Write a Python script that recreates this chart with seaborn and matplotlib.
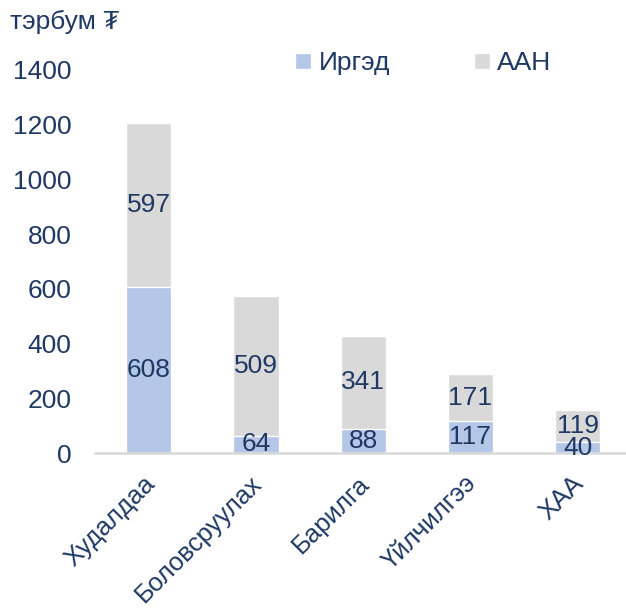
import matplotlib
matplotlib.use("Agg")
import matplotlib.pyplot as plt
from matplotlib.transforms import ScaledTranslation
import seaborn as sns
import pandas as pd

categories = ['Худалдаа', 'Боловсруулах', 'Барилга', 'Үйлчилгээ', 'ХАА']
irged = [608, 64, 88, 117, 40]
aan = [597, 509, 341, 171, 119]

blue = '#B4C7E7'
gray = '#D9D9D9'
navy = '#1F3864'

sns.set_theme(style='white')
plt.rcParams['font.family'] = ['Liberation Sans', 'DejaVu Sans']

df = pd.DataFrame({'cat': categories, 'Иргэд': irged, 'ААН': aan})
df['total'] = df['Иргэд'] + df['ААН']

fig = plt.figure(figsize=(6.26, 6.14), dpi=100)
ax = fig.add_axes([0.152, 0.262, 0.848, 0.624])

# total bar in gray, then blue bottom on top
sns.barplot(data=df, x='cat', y='total', color=gray, width=0.42, ax=ax,
            saturation=1, label='ААН')
sns.barplot(data=df, x='cat', y='Иргэд', color=blue, width=0.42, ax=ax,
            saturation=1, label='Иргэд')
handles, labels = ax.get_legend_handles_labels()
if ax.get_legend() is not None:
    ax.get_legend().remove()

for i, (a, b) in enumerate(zip(irged, aan)):
    ax.text(i, a / 2, str(a), ha='center', va='center', color=navy, fontsize=19)
    ax.text(i, a + b / 2, str(b), ha='center', va='center', color=navy, fontsize=19)

ax.set_ylim(0, 1400)
ax.set_xlim(-0.5, 4.45)
ax.set_yticks(range(0, 1401, 200))
ax.set_xlabel('')
ax.set_ylabel('')
ax.tick_params(axis='y', labelsize=19, labelcolor=navy, length=0, pad=17)
ax.tick_params(axis='x', labelsize=18.5, labelcolor=navy, length=0, pad=13)
shift = ScaledTranslation(-6 / 100, 0, fig.dpi_scale_trans)
for lbl in ax.get_xticklabels():
    lbl.set_rotation(45)
    lbl.set_ha('right')
    lbl.set_va('top')
    lbl.set_rotation_mode('anchor')
    lbl.set_transform(lbl.get_transform() + shift)
for s in ['top', 'right', 'left']:
    ax.spines[s].set_visible(False)
ax.spines['bottom'].set_color('#D9D9D9')
ax.spines['bottom'].set_linewidth(1.8)

fig.legend(handles[::-1], labels[::-1], ncol=2, frameon=False, loc='center left',
           bbox_to_anchor=(0.472, 0.897), fontsize=19, labelcolor=navy,
           borderpad=0, borderaxespad=0,
           handlelength=0.6, handleheight=0.6, handletextpad=0.27,
           columnspacing=3.2)

fig.text(0.016, 0.965, 'тэрбум ₮', fontsize=19, color=navy, va='center', ha='left')

fig.savefig('out.png', dpi=100)
